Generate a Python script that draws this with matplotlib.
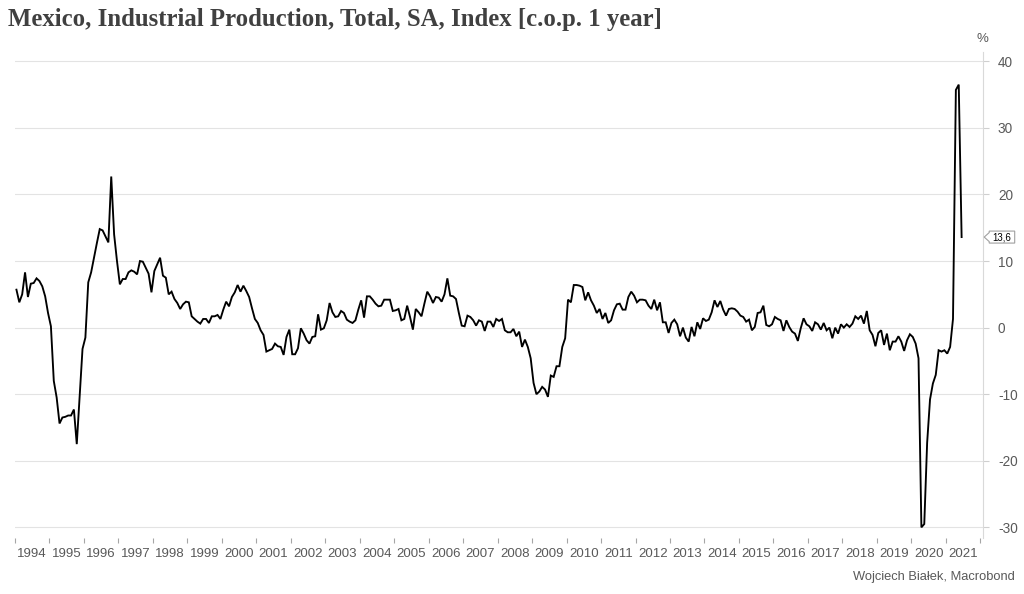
import numpy as np
import matplotlib
matplotlib.use("Agg")
import matplotlib.pyplot as plt
from matplotlib.patches import Polygon
from matplotlib.ticker import FixedLocator, NullFormatter, FixedFormatter

# ---------------- data (monthly, y/y %) ----------------
start_year = 1994
y1994 = [5.7, 3.8, 5.0, 8.3, 4.6, 6.6, 6.7, 7.4, 7.0, 6.2, 4.7, 2.2]
y1995 = [0.2, -8.0, -10.5, -14.4, -13.5, -13.4, -13.2, -13.2, -12.3, -17.5, -10.3, -3.2]
y1996 = [-1.5, 6.8, 8.3, 10.5, 12.7, 14.8, 14.6, 13.7, 12.8, 22.7, 14.0, 10.0]
y1997 = [6.5, 7.3, 7.3, 8.3, 8.6, 8.4, 8.0, 10.0, 9.9, 9.0, 8.1, 5.3]
y1998 = [8.5, 9.5, 10.5, 7.8, 7.5, 5.0, 5.4, 4.3, 3.7, 2.8, 3.5, 3.9]
y1999 = [3.8, 1.7, 1.3, 0.9, 0.6, 1.3, 1.3, 0.7, 1.7, 1.7, 1.9, 1.3]
y2000 = [2.7, 3.9, 3.2, 4.6, 5.3, 6.4, 5.4, 6.3, 5.5, 4.6, 2.9, 1.3]
y2001 = [0.7, -0.4, -1.1, -3.6, -3.4, -3.2, -2.4, -2.8, -2.9, -4.1, -1.4, -0.3]
y2002 = [-4.0, -4.0, -3.1, -0.1, -0.9, -1.9, -2.4, -1.4, -1.3, 2.0, -0.3, -0.1]
y2003 = [1.1, 3.7, 2.3, 1.6, 1.7, 2.5, 2.2, 1.2, 0.9, 0.7, 1.1, 2.7]
y2004 = [4.1, 1.5, 4.7, 4.7, 4.2, 3.6, 3.2, 3.3, 4.2, 4.2, 4.2, 2.5]
y2005 = [2.6, 2.8, 1.1, 1.3, 3.3, 1.6, -0.3, 2.8, 2.3, 1.7, 3.6, 5.4]
y2006 = [4.7, 3.7, 4.6, 4.5, 3.9, 5.0, 7.4, 4.8, 4.7, 4.3, 2.2, 0.3]
y2007 = [0.2, 1.8, 1.6, 1.1, 0.3, 1.1, 0.9, -0.5, 0.9, 0.9, 0.1, 1.3]
y2008 = [1.0, 1.3, -0.4, -0.7, -0.7, -0.2, -1.3, -0.6, -2.9, -1.8, -2.9, -4.6]
y2009 = [-8.3, -10.0, -9.6, -8.9, -9.3, -10.4, -7.2, -7.4, -5.8, -5.8, -2.9, -1.6]
y2010 = [4.2, 3.8, 6.4, 6.4, 6.3, 6.1, 4.1, 5.3, 4.1, 3.3, 2.2, 2.8]
y2011 = [1.3, 2.2, 0.7, 1.1, 2.6, 3.5, 3.6, 2.7, 2.7, 4.6, 5.4, 4.8]
y2012 = [3.8, 4.2, 4.2, 4.1, 3.3, 2.8, 4.2, 2.6, 3.8, 0.8, 0.8, -0.8]
y2013 = [0.7, 1.2, 0.5, -1.3, 0.0, -1.5, -2.1, 0.1, -1.3, 0.8, -0.2, 1.4]
y2014 = [1.0, 1.2, 2.3, 4.1, 3.1, 4.0, 2.7, 1.8, 2.8, 2.9, 2.8, 2.4]
y2015 = [1.8, 1.6, 0.9, 1.2, -0.4, 0.1, 2.2, 2.3, 3.3, 0.4, 0.2, 0.5]
y2016 = [1.6, 1.3, 1.1, -0.5, 1.1, 0.1, -0.6, -0.9, -2.0, -0.1, 1.4, 0.5]
y2017 = [0.2, -0.5, 0.8, 0.5, -0.3, 0.7, -0.4, 0.0, -1.6, 0.0, -0.9, 0.5]
y2018 = [0.0, 0.5, 0.1, 0.6, 1.7, 1.3, 1.8, 0.6, 2.5, -0.4, -1.1, -2.8]
y2019 = [-0.8, -0.4, -2.6, -0.9, -3.4, -2.1, -2.1, -1.3, -2.1, -3.5, -1.9, -1.0]
y2020 = [-1.4, -2.4, -4.6, -30.0, -29.5, -17.3, -10.8, -8.4, -7.1, -3.4, -3.6, -3.4]
y2021 = [-3.9, -2.9, 1.3, 35.7, 36.5, 13.6]

years = list(range(1994, 2022))
y_ticks = [-30, -20, -10, 0, 10, 20, 30, 40]

title = "Mexico, Industrial Production, Total, SA, Index [c.o.p. 1 year]"
source = "Wojciech Białek, Macrobond"

values = np.array(y1994 + y1995 + y1996 + y1997 + y1998 + y1999 + y2000 +
                  y2001 + y2002 + y2003 + y2004 + y2005 + y2006 + y2007 +
                  y2008 + y2009 + y2010 + y2011 + y2012 + y2013 + y2014 +
                  y2015 + y2016 + y2017 + y2018 + y2019 + y2020 + y2021)
t = start_year + (np.arange(len(values)) + 0.5) / 12.0

# ---------------- figure ----------------
DPI = 100
fig = plt.figure(figsize=(10.24, 5.94), dpi=DPI)
ax = fig.add_axes([15 / 1024, 56 / 594, (982.7 - 15) / 1024, (538 - 52) / 594])

grid_c = "#e3e3e3"
txt_c = "#595959"
font = ["Liberation Sans", "DejaVu Sans"]

ax.plot(t, values, color="black", lw=1.35, solid_joinstyle="miter", zorder=3)

ax.set_xlim(1994.0, 2022.07)
ax.set_ylim(-31.6, 41.4)

# y axis on the right
ax.yaxis.tick_right()
ax.yaxis.set_major_locator(FixedLocator(y_ticks))
ax.set_yticklabels([str(v) for v in y_ticks])
ax.tick_params(axis="y", which="major", length=4, width=0.8, color="#cfcfcf",
               labelcolor=txt_c, labelsize=9.8, pad=7)
for lab in ax.get_yticklabels():
    lab.set_family(font)
ax.grid(axis="y", color=grid_c, lw=0.8, zorder=0)

# x axis: ticks at year boundaries, labels centred in the year
ax.xaxis.set_major_locator(FixedLocator([y for y in years] + [years[-1] + 1]))
ax.xaxis.set_major_formatter(NullFormatter())
ax.xaxis.set_minor_locator(FixedLocator([y + 0.5 for y in years]))
ax.xaxis.set_minor_formatter(FixedFormatter([str(y) for y in years]))
ax.tick_params(axis="x", which="major", length=3.5, width=0.8, color="#a6a6a6",
               direction="out")
ax.tick_params(axis="x", which="minor", length=0, labelcolor=txt_c,
               labelsize=9.5, pad=7)
for lab in ax.get_xticklabels(minor=True):
    lab.set_family(font)

for s in ["top", "left", "bottom"]:
    ax.spines[s].set_visible(False)
ax.spines["right"].set_color("#d9d9d9")
ax.spines["right"].set_linewidth(0.8)

# % unit label
ax.annotate("%", xy=(1.0, 1.0), xycoords="axes fraction", xytext=(0, 9),
            textcoords="offset points", ha="center", va="center",
            fontsize=9.5, color=txt_c, family=font)

# title
fig.text(8 / 1024, 1 - 26 / 594, title, ha="left", va="baseline",
         fontsize=17.8, fontweight="bold", color="#404040",
         family=["Liberation Serif", "DejaVu Serif"])

# source
fig.text(1015 / 1024, 1 - 577 / 594, source, ha="right", va="center",
         fontsize=9.3, color=txt_c, family=font)

# last-value label with pointer
fig.canvas.draw()
last = values[-1]
ax_x, ax_y = ax.get_yaxis_transform().transform((1.0, last))
tip = (ax_x + 1.5, ax_y)
h = 6.0
bx0 = ax_x + 6.5
bx1 = ax_x + 32.0
verts = [tip, (bx0, ax_y + 4.5), (bx0, ax_y + h), (bx1, ax_y + h),
         (bx1, ax_y - h), (bx0, ax_y - h), (bx0, ax_y - 4.5)]
poly = Polygon(verts, closed=True, transform=None, facecolor="white",
               edgecolor="#a0a0a0", lw=0.8, zorder=5, clip_on=False)
fig.patches.append(poly)
fig.text((bx0 + bx1) / 2 / (10.24 * DPI), ax_y / (5.94 * DPI),
         f"{last:.1f}".replace(".", ","), ha="center", va="center",
         fontsize=7, color="black", family=font, zorder=6)

fig.savefig("out.png", dpi=DPI)
